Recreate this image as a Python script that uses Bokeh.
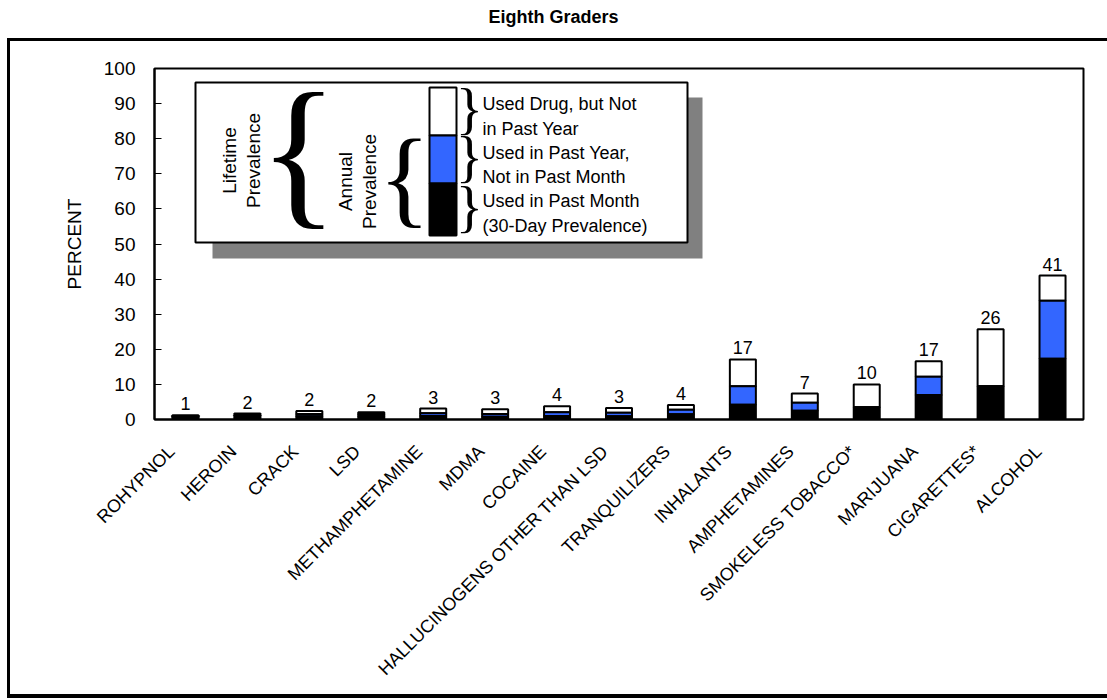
import math
from bokeh.plotting import figure
from bokeh.models import Range1d, FixedTicker, Div
from bokeh.layouts import column
from bokeh.core.properties import value
from bokeh.embed import file_html
from bokeh.resources import INLINE

drugs = ["ROHYPNOL", "HEROIN", "CRACK", "LSD", "METHAMPHETAMINE", "MDMA", "COCAINE",
         "HALLUCINOGENS OTHER THAN LSD", "TRANQUILIZERS", "INHALANTS", "AMPHETAMINES",
         "SMOKELESS TOBACCO*", "MARIJUANA", "CIGARETTES*", "ALCOHOL"]
lifetime = [1.2, 1.7, 2.4, 2.1, 3.1, 2.9, 3.8, 3.3, 4.1, 17.1, 7.4, 10.0, 16.6, 25.7, 41.0]
annual = [0.9, 1.2, 1.6, 1.5, 1.8, 1.6, 2.1, 1.9, 2.8, 9.5, 4.8, None, 12.2, None, 33.8]
month = [0.6, 0.7, 0.9, 0.9, 1.0, 0.8, 1.0, 0.9, 1.5, 4.2, 2.5, 3.5, 7.0, 9.5, 17.3]
value_labels = ["1", "2", "2", "2", "3", "3", "4", "3", "4", "17", "7", "10", "17", "26", "41"]
yticks = list(range(0, 101, 10))

FONT = "Liberation Sans"
BLUE = "#3366FF"

PAGE_X0, PAGE_Y0 = 10, 41  # page position of the figure canvas
W, H = 1107 - PAGE_X0, 653
ML, MR, MT, MB = 144, 24, 27, 275
FW, FH = W - ML - MR, H - MT - MB

def fx(px):
    return (px - PAGE_X0 - ML) / FW * 15

def fy(py):
    return (PAGE_Y0 + MT + FH - py) / FH * 100

p = figure(width=W, height=H, x_range=Range1d(0, 15), y_range=Range1d(0, 100),
           output_backend="svg", toolbar_location=None,
           min_border_left=ML, min_border_right=MR, min_border_top=MT, min_border_bottom=MB,
           margin=(0, 0, 0, 0))
p.xgrid.visible = False
p.ygrid.visible = False
p.outline_line_color = "black"
p.outline_line_width = 2

xs = [i + 0.5 for i in range(len(drugs))]
ann = [a if a is not None else m for a, m in zip(annual, month)]
bw = 0.42
p.vbar(x=xs, width=bw, bottom=ann, top=lifetime, fill_color="white", line_color="black", line_width=2)
p.vbar(x=xs, width=bw, bottom=month, top=ann, fill_color=BLUE, line_color="black", line_width=2)
p.vbar(x=xs, width=bw, bottom=0, top=month, fill_color="black", line_color="black", line_width=2)
p.text(x=xs, y=lifetime, text=value_labels, y_offset=-5, text_align="center", text_baseline="bottom",
       text_font=value(FONT), text_font_size="18px", text_color="black")

# axes: category labels hang below-left of each bar (hidden ticks nudged left)
label_shift = 14 / FW * 15
lab_x = [x - label_shift for x in xs]
p.xaxis.ticker = FixedTicker(ticks=lab_x)
p.xaxis.major_label_overrides = {x: d for x, d in zip(lab_x, drugs)}
p.xaxis.major_label_orientation = math.pi / 4
p.xaxis.major_tick_line_color = None
p.xaxis.axis_line_width = 2
p.xaxis.major_label_text_font = FONT
p.xaxis.major_label_text_font_size = "18px"
p.xaxis.major_label_text_color = "black"
p.xaxis.major_label_standoff = 23

p.yaxis.ticker = FixedTicker(ticks=yticks)
p.yaxis.major_tick_in = 7
p.yaxis.major_tick_out = 0
p.yaxis.major_tick_line_width = 1
p.yaxis.axis_line_width = 2
p.yaxis.major_label_standoff = 19
p.yaxis.major_label_text_font = FONT
p.yaxis.major_label_text_font_size = "19px"
p.yaxis.major_label_text_color = "black"
p.yaxis.axis_label = "PERCENT"
p.yaxis.axis_label_text_font = FONT
p.yaxis.axis_label_text_font_size = "19px"
p.yaxis.axis_label_text_font_style = "normal"
p.yaxis.axis_label_text_color = "black"
p.yaxis.axis_label_standoff = 16

# legend box (positions in page pixels converted to data)
p.quad(left=fx(212), right=fx(702), top=fy(97), bottom=fy(258), fill_color="#808080", line_color=None)
p.quad(left=fx(195), right=fx(687), top=fy(82), bottom=fy(242), fill_color="white", line_color="black", line_width=2)
p.quad(left=fx(429), right=fx(456), top=fy(87), bottom=fy(135), fill_color="white", line_color="black", line_width=2)
p.quad(left=fx(429), right=fx(456), top=fy(135), bottom=fy(183), fill_color=BLUE, line_color="black", line_width=2)
p.quad(left=fx(429), right=fx(456), top=fy(183), bottom=fy(235), fill_color="black", line_color="black", line_width=2)

def brace(ch, cx, cy, size):
    base = cy - 0.048 * size
    p.text(x=[fx(cx)], y=[fy(base)], text=[ch], text_align="center", text_baseline="alphabetic",
           text_font=value("Liberation Serif"), text_font_size=f"{size}px", text_color="black")

brace("{", 298, 158, 166)
brace("{", 404, 182, 108)
for cy in (111, 159, 209):
    brace("}", 469, cy, 57)

def rot(t, cx, cy):
    p.text(x=[fx(cx)], y=[fy(cy)], text=[t], angle=math.pi / 2, text_align="center", text_baseline="middle",
           text_font=value(FONT), text_font_size="19px", text_color="black")

rot("Lifetime", 229, 160)
rot("Prevalence", 253, 160)
rot("Annual", 345, 181)
rot("Prevalence", 369, 181)

leg_lines = ["Used Drug, but Not", "in Past Year", "Used in Past Year,", "Not in Past Month",
             "Used in Past Month", "(30-Day Prevalence)"]
leg_y = [103, 128, 152, 176, 200, 225]
p.text(x=[fx(482)] * len(leg_lines), y=[fy(v) for v in leg_y], text=leg_lines, text_align="left",
       text_baseline="middle", text_font=value(FONT), text_font_size="18px", text_color="black")

# panel frame: border on left, top and bottom of a wrapper (right edge runs off the page)
panel = column(p, margin=(0, 0, 0, PAGE_X0 - 3), spacing=0,
               styles={"border-left": "3px solid black", "border-top": "3px solid black",
                       "border-bottom": "4px solid black"})

title = Div(text='<div style="text-align:center;font-family:\'Liberation Sans\',Arial;font-weight:bold;'
                 'font-size:18px;line-height:18px;margin:0;padding-top:8px;width:1107px;">Eighth Graders</div>',
            width=1107, height=PAGE_Y0 - 3, margin=(0, 0, 0, 0))
layout = column(title, panel, spacing=0)

open("out.html", "w").write(file_html(layout, INLINE))
